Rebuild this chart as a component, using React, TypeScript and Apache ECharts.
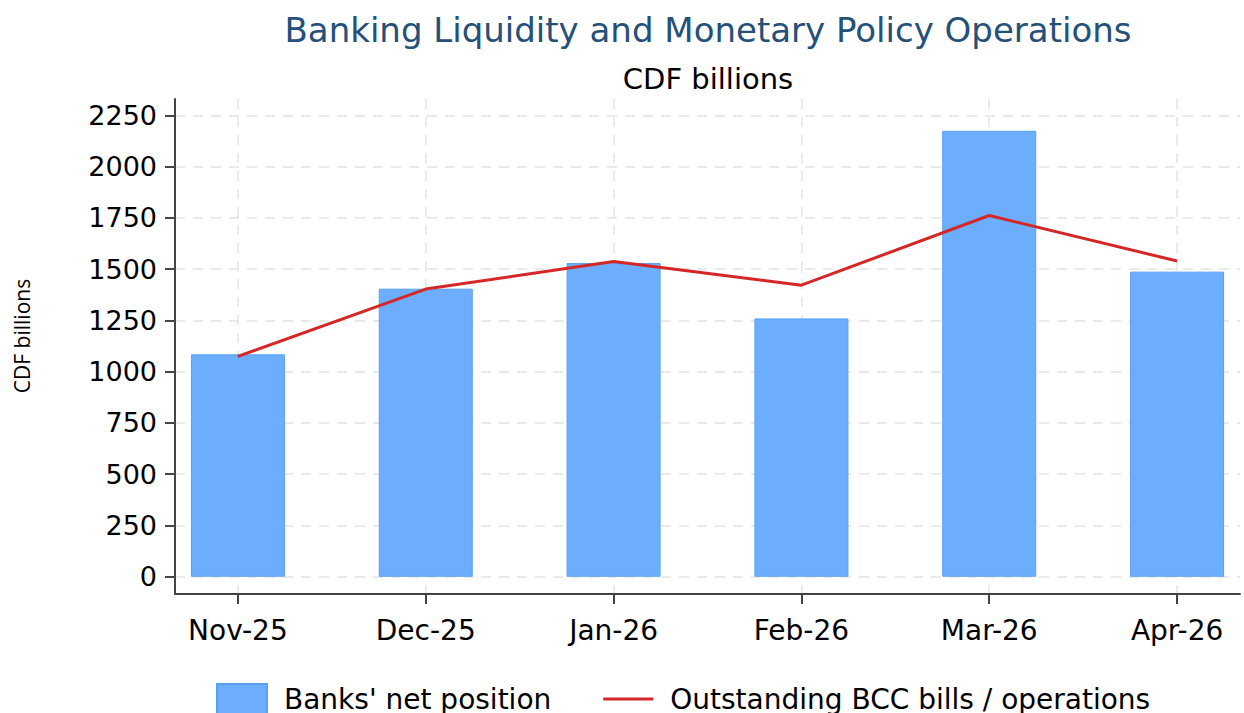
import React, { useEffect, useRef } from "react";
import * as echarts from "echarts";

const months = ["Nov-25", "Dec-25", "Jan-26", "Feb-26", "Mar-26", "Apr-26"];
const banksNetPosition = [1085, 1405, 1530, 1260, 2175, 1488];
const bccBills = [1075, 1403, 1537, 1422, 1762, 1540];
const yTicks = [0, 250, 500, 750, 1000, 1250, 1500, 1750, 2000, 2250];
const xTicks = [0, 1, 2, 3, 4, 5];

const FONT = "'DejaVu Sans', sans-serif";

export default function App() {
  const ref = useRef<HTMLDivElement>(null);
  useEffect(() => {
    if (!ref.current) return;
    const chart = echarts.init(ref.current, null, { renderer: "svg" });
    const gridLine = { show: true, lineStyle: { color: "#e4e4e4", width: 1.5, type: [10, 8] as any } };
    chart.setOption({
      animation: false,
      backgroundColor: "#ffffff",
      title: [
        {
          text: "Banking Liquidity and Monetary Policy Operations",
          left: 703,
          top: 8,
          textAlign: "center",
          textStyle: { fontFamily: FONT, fontSize: 34, fontWeight: "normal", color: "#24507a" },
        },
        {
          text: "CDF billions",
          left: 703,
          top: 59,
          textAlign: "center",
          textStyle: { fontFamily: FONT, fontSize: 29, fontWeight: "normal", color: "#000" },
        },
      ],
      graphic: [
        {
          type: "text",
          x: 22,
          y: 336,
          rotation: Math.PI / 2,
          style: {
            text: "CDF billions",
            font: "21px 'Open Sans', sans-serif",
            fill: "#000",
            align: "center",
            verticalAlign: "middle",
          },
        },
      ],
      legend: {
        left: 211,
        top: 678,
        itemWidth: 50,
        itemHeight: 30,
        itemGap: 52,
        symbolKeepAspect: true,
        textStyle: { fontFamily: FONT, fontSize: 28, color: "#000", padding: [0, 0, 0, 12] },
        data: [
          { name: "Banks' net position", icon: "rect" },
          {
            name: "Outstanding BCC bills / operations",
            icon: "path://M0,0 L50,0 L50,3 L0,3 Z",
            itemStyle: { color: "#d62728" },
          },
        ],
      },
      grid: { left: 175, right: 4, top: 99, bottom: 119, outerBoundsMode: "none" },
      xAxis: {
        type: "value",
        min: -0.335,
        max: 5.335,
        axisLine: { show: true, onZero: false, lineStyle: { color: "#444", width: 2 } },
        axisTick: { show: true, customValues: xTicks, length: 10, lineStyle: { color: "#444", width: 2 } },
        axisLabel: {
          customValues: xTicks,
          formatter: (v: number) => months[Math.round(v)],
          fontFamily: FONT,
          fontSize: 28,
          color: "#000",
          margin: 22,
        },
        splitLine: gridLine,
      },
      yAxis: {
        type: "value",
        min: -84,
        max: 2330,
        axisLine: { show: true, onZero: false, lineStyle: { color: "#444", width: 2 } },
        axisTick: { show: true, customValues: yTicks, length: 10, lineStyle: { color: "#444", width: 2 } },
        axisLabel: {
          customValues: yTicks,
          formatter: (v: number) => String(v),
          fontFamily: FONT,
          fontSize: 27,
          color: "#000",
          margin: 18,
        },
        splitLine: gridLine,
      },
      series: [
        {
          name: "Banks' net position",
          type: "bar",
          barWidth: 94,
          data: banksNetPosition.map((v, i) => [i, v]),
          itemStyle: { color: "#6caefd", borderColor: "#5b9ff2", borderWidth: 1 },
          z: 2,
        },
        {
          name: "Outstanding BCC bills / operations",
          type: "line",
          data: bccBills.map((v, i) => [i, v]),
          symbol: "none",
          lineStyle: { color: "#d62728", width: 3 },
          itemStyle: { color: "#d62728" },
          z: 3,
        },
      ],
    });
    return () => chart.dispose();
  }, []);
  return (
    <div
      ref={ref}
      style={{ position: "fixed", left: 0, top: 0, width: 1244, height: 713, background: "#fff" }}
    />
  );
}
